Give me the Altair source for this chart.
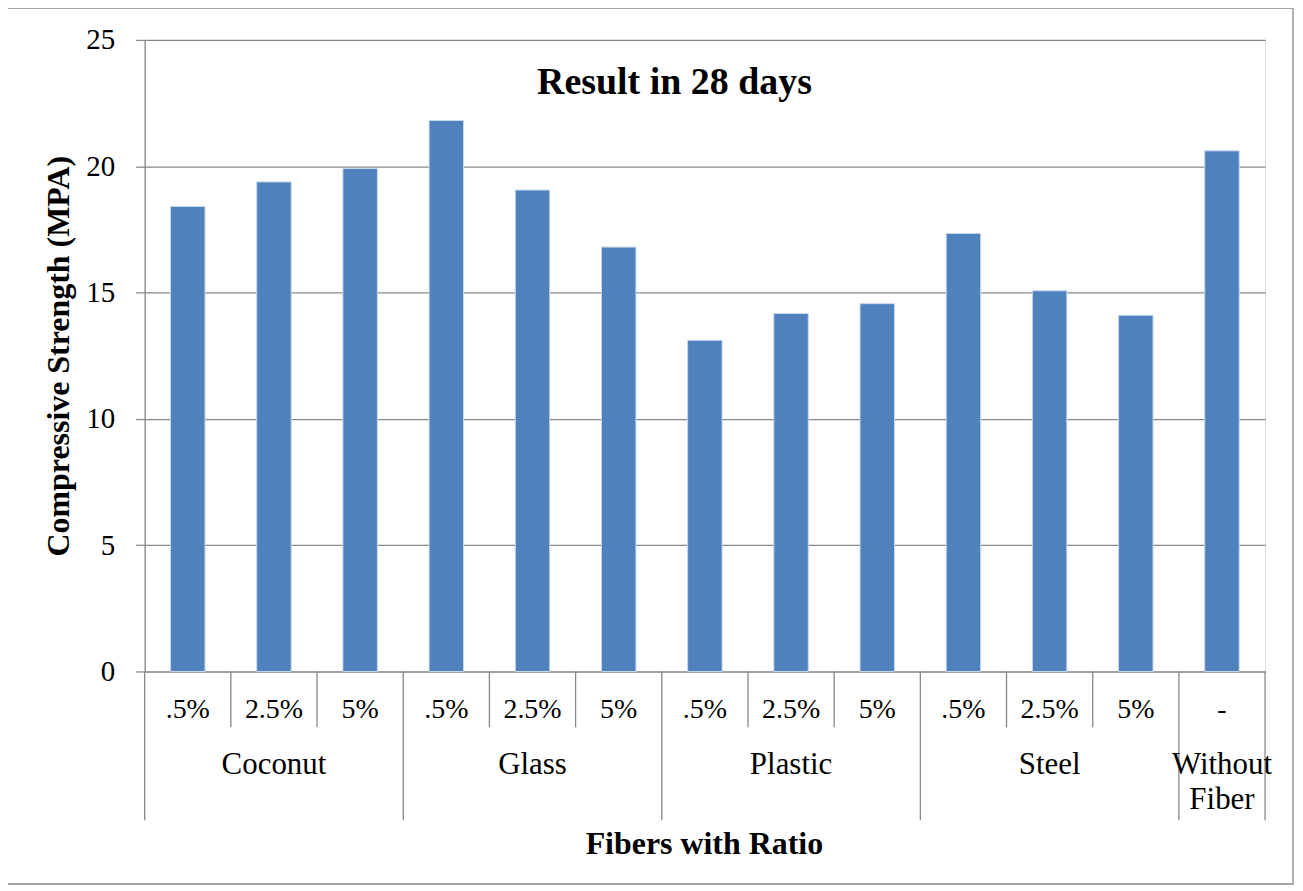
import altair as alt
import pandas as pd

groups = ["Coconut", "Coconut", "Coconut", "Glass", "Glass", "Glass",
          "Plastic", "Plastic", "Plastic", "Steel", "Steel", "Steel", "Without Fiber"]
ratios = [".5%", "2.5%", "5%", ".5%", "2.5%", "5%", ".5%", "2.5%", "5%",
          ".5%", "2.5%", "5%", "-"]
values = [18.41, 19.38, 19.91, 21.81, 19.06, 16.80, 13.11, 14.17, 14.56,
          17.34, 15.07, 14.10, 20.61]
y_ticks = [0, 5, 10, 15, 20, 25]

FONT = "Liberation Serif"
GRAY = "#888888"
BLUE = "#4F81BD"

n = len(values)
df = pd.DataFrame({
    "idx": list(range(n)),
    "group": groups,
    "ratio": ratios,
    "value": values,
})
df["x0"] = df["idx"] + 0.3
df["x1"] = df["idx"] + 0.7
df["xc"] = df["idx"] + 0.5

seps = []
for b in range(n + 1):
    if b == 0 or b == n or groups[b] != groups[b - 1]:
        seps.append({"pos": b, "kind": "long"})
    else:
        seps.append({"pos": b, "kind": "short"})
sep_df = pd.DataFrame(seps)

glab = df.groupby("group", sort=False)["xc"].mean().reset_index()
glab["line1"] = glab["group"].apply(lambda g: g.split(" ")[0] if g == "Without Fiber" else g)
glab["line2"] = glab["group"].apply(lambda g: g.split(" ")[1] if g == "Without Fiber" else "")

W, H = 1123, 633
xscale = alt.Scale(domain=[0, n], nice=False, zero=False)
yscale = alt.Scale(domain=[0, 25], nice=False)

base = alt.Chart(df)

bars = base.mark_rect(color=BLUE, stroke="#C9D8EC", strokeWidth=1).encode(
    x=alt.X("x0:Q", scale=xscale, axis=None),
    x2="x1:Q",
    y=alt.Y("value:Q", scale=yscale,
            axis=alt.Axis(values=y_ticks, title="Compressive Strength (MPA)",
                          grid=True, gridColor=GRAY, gridWidth=1.3,
                          domainColor=GRAY, domainWidth=1.3,
                          tickColor=GRAY, tickSize=9, tickWidth=1.3,
                          labelFont=FONT, labelFontSize=29, labelColor="black",
                          labelPadding=21,
                          titleFont=FONT, titleFontSize=32, titleFontWeight="bold",
                          titleColor="black", titlePadding=10)),
    y2=alt.datum(0),
)

sub_labels = base.mark_text(font=FONT, fontSize=28, color="black", baseline="middle").encode(
    x=alt.X("xc:Q", scale=xscale),
    y=alt.value(672),
    text="ratio:N",
)

g1 = alt.Chart(glab).mark_text(font=FONT, fontSize=31, color="black", baseline="middle").encode(
    x=alt.X("xc:Q", scale=xscale),
    y=alt.value(727),
    text="line1:N",
)
g2 = alt.Chart(glab).mark_text(font=FONT, fontSize=31, color="black", baseline="middle").encode(
    x=alt.X("xc:Q", scale=xscale),
    y=alt.value(762),
    text="line2:N",
)

short_sep = alt.Chart(sep_df[sep_df["kind"] == "short"]).mark_rule(color=GRAY, strokeWidth=1.3).encode(
    x=alt.X("pos:Q", scale=xscale),
    y=alt.value(H),
    y2=alt.value(689),
)
long_sep = alt.Chart(sep_df[sep_df["kind"] == "long"]).mark_rule(color=GRAY, strokeWidth=1.3).encode(
    x=alt.X("pos:Q", scale=xscale),
    y=alt.value(H),
    y2=alt.value(782),
)

one = pd.DataFrame({"t": ["Result in 28 days"]})
title = alt.Chart(one).mark_text(font=FONT, fontSize=38, fontWeight="bold", color="black",
                                 baseline="middle").encode(
    x=alt.value(531), y=alt.value(43), text="t:N")

xtitle = alt.Chart(pd.DataFrame({"t": ["Fibers with Ratio"]})).mark_text(
    font=FONT, fontSize=32, fontWeight="bold", color="black", baseline="middle").encode(
    x=alt.value(561), y=alt.value(806), text="t:N")

frame = alt.Chart(pd.DataFrame({"a": [0]})).mark_rect(
    filled=False, stroke=GRAY, strokeWidth=1.3, fill=None).encode(
    x=alt.value(-138), x2=alt.value(1151), y=alt.value(-32), y2=alt.value(846))

chart = alt.layer(frame, bars, short_sep, long_sep, sub_labels, g1, g2, title, xtitle).properties(
    width=W, height=H,
    autosize=alt.AutoSizeParams(type="none"),
    padding={"left": 137, "top": 31, "right": 30, "bottom": 218},
).configure_view(stroke=None).configure(background="white")

chart.save("out.html", embed_options={"renderer": "svg", "actions": False})
